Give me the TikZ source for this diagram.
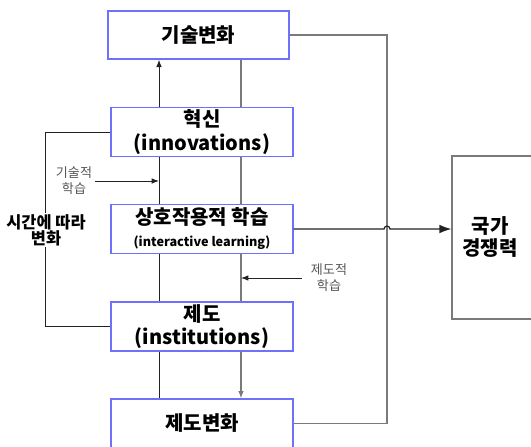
\documentclass[tikz,border=0pt]{standalone}
\usepackage{fontspec}
\setmainfont{Noto Sans CJK KR}
\usetikzlibrary{arrows.meta}
\definecolor{boxblue}{HTML}{7070FF}
\definecolor{lineg}{HTML}{7A7A7A}
\definecolor{lined}{HTML}{222222}
\definecolor{labelg}{HTML}{555555}
\tikzset{
  box/.style={draw=boxblue, line width=1pt, minimum width=136.5pt, minimum height=36.75pt,
    inner sep=0pt, align=center, fill=white, font=\bfseries\fontsize{15}{19.5}\selectfont},
  bigtext/.style={align=center, inner sep=1pt, font=\bfseries\fontsize{15}{16.5}\selectfont},
  smalllab/.style={align=center, inner sep=1pt, text=labelg, font=\fontsize{9.8}{12.5}\selectfont},
  timelab/.style={align=center, inner sep=1pt, fill=white, font=\bfseries\fontsize{12.3}{12}\selectfont},
  natbox/.style={draw=lineg, line width=0.9pt, minimum width=81pt, minimum height=122.25pt, inner sep=0pt},
  dk/.style={draw=lined, line width=0.75pt},
  gr/.style={draw=lineg, line width=0.9pt},
  sarr/.style={-{Latex[length=5.5pt,width=4.2pt]}},
  barr/.style={-{Latex[length=9pt,width=6.5pt]}}
}
\begin{document}
\begin{tikzpicture}[x=0.75pt,y=-0.75pt]
\useasboundingbox (0,0) rectangle (531,446);
\clip (0,0) rectangle (531,446);

\coordinate (lx) at (159,0);
\coordinate (rx) at (241,0);

\node[box, minimum width=135.75pt, minimum height=36pt] (tech) at (198.5,35) {기술변화};
\node[box] (innov) at (202,132) {혁신\\[-1.5pt](innovations)};
\node[box] (inter) at (202,229) {상호작용적 학습\\[-3pt]{\fontsize{9.5}{12}\selectfont (interactive learning)}};
\node[box] (inst) at (202,326.5) {제도\\[-2pt](institutions)};
\node[box] (instch) at (202,423.5) {제도변화};

\node[natbox] (nat) at (506,237.5) {};
\node[bigtext] (natlabel) at (490,237) {국가\\경쟁력};

% vertical connections
\draw[dk, sarr] (innov.north -| lx) -- (tech.south -| lx);
\draw[gr] (innov.north -| rx) -- (tech.south -| rx);
\draw[dk] (innov.south -| lx) -- (inter.north -| lx);
\draw[gr] (innov.south -| rx) -- (inter.north -| rx);
\draw[dk] (inter.south -| lx) -- (inst.north -| lx);
\draw[gr] (inter.south -| rx) -- (inst.north -| rx);
\draw[dk] (inst.south -| lx) -- (instch.north -| lx);
\draw[gr, sarr] (inst.south -| rx) -- (instch.north -| rx);

% learning labels
\node[smalllab] (techlearn) at (74,180.5) {기술적\\학습};
\coordinate (tl) at (95,181);
\draw[dk, sarr] (tl) -- (tl -| lx);
\node[smalllab] (instlearn) at (329,277.5) {제도적\\학습};
\coordinate (il) at (302,278);
\draw[dk, sarr] (il) -- (il -| rx);

% left feedback loop
\draw[dk] (innov.west) -- ++(-65,0) |- (inst.west);
\node[timelab] (time) at (46,230) {시간에 따라\\변화};

% right loop
\coordinate (rr) at (387,0);
\draw[gr] (tech.east) -- (tech.east -| rr) -- (instch.east -| rr) -- (instch.east);

% to national competitiveness, with hop
\draw[dk, line width=0.9pt, barr] (inter.east) -- ([xshift=-2.2pt]inter.east -| rr) arc (180:0:2.2pt) -- (inter.east -| nat.west);
\end{tikzpicture}
\end{document}
